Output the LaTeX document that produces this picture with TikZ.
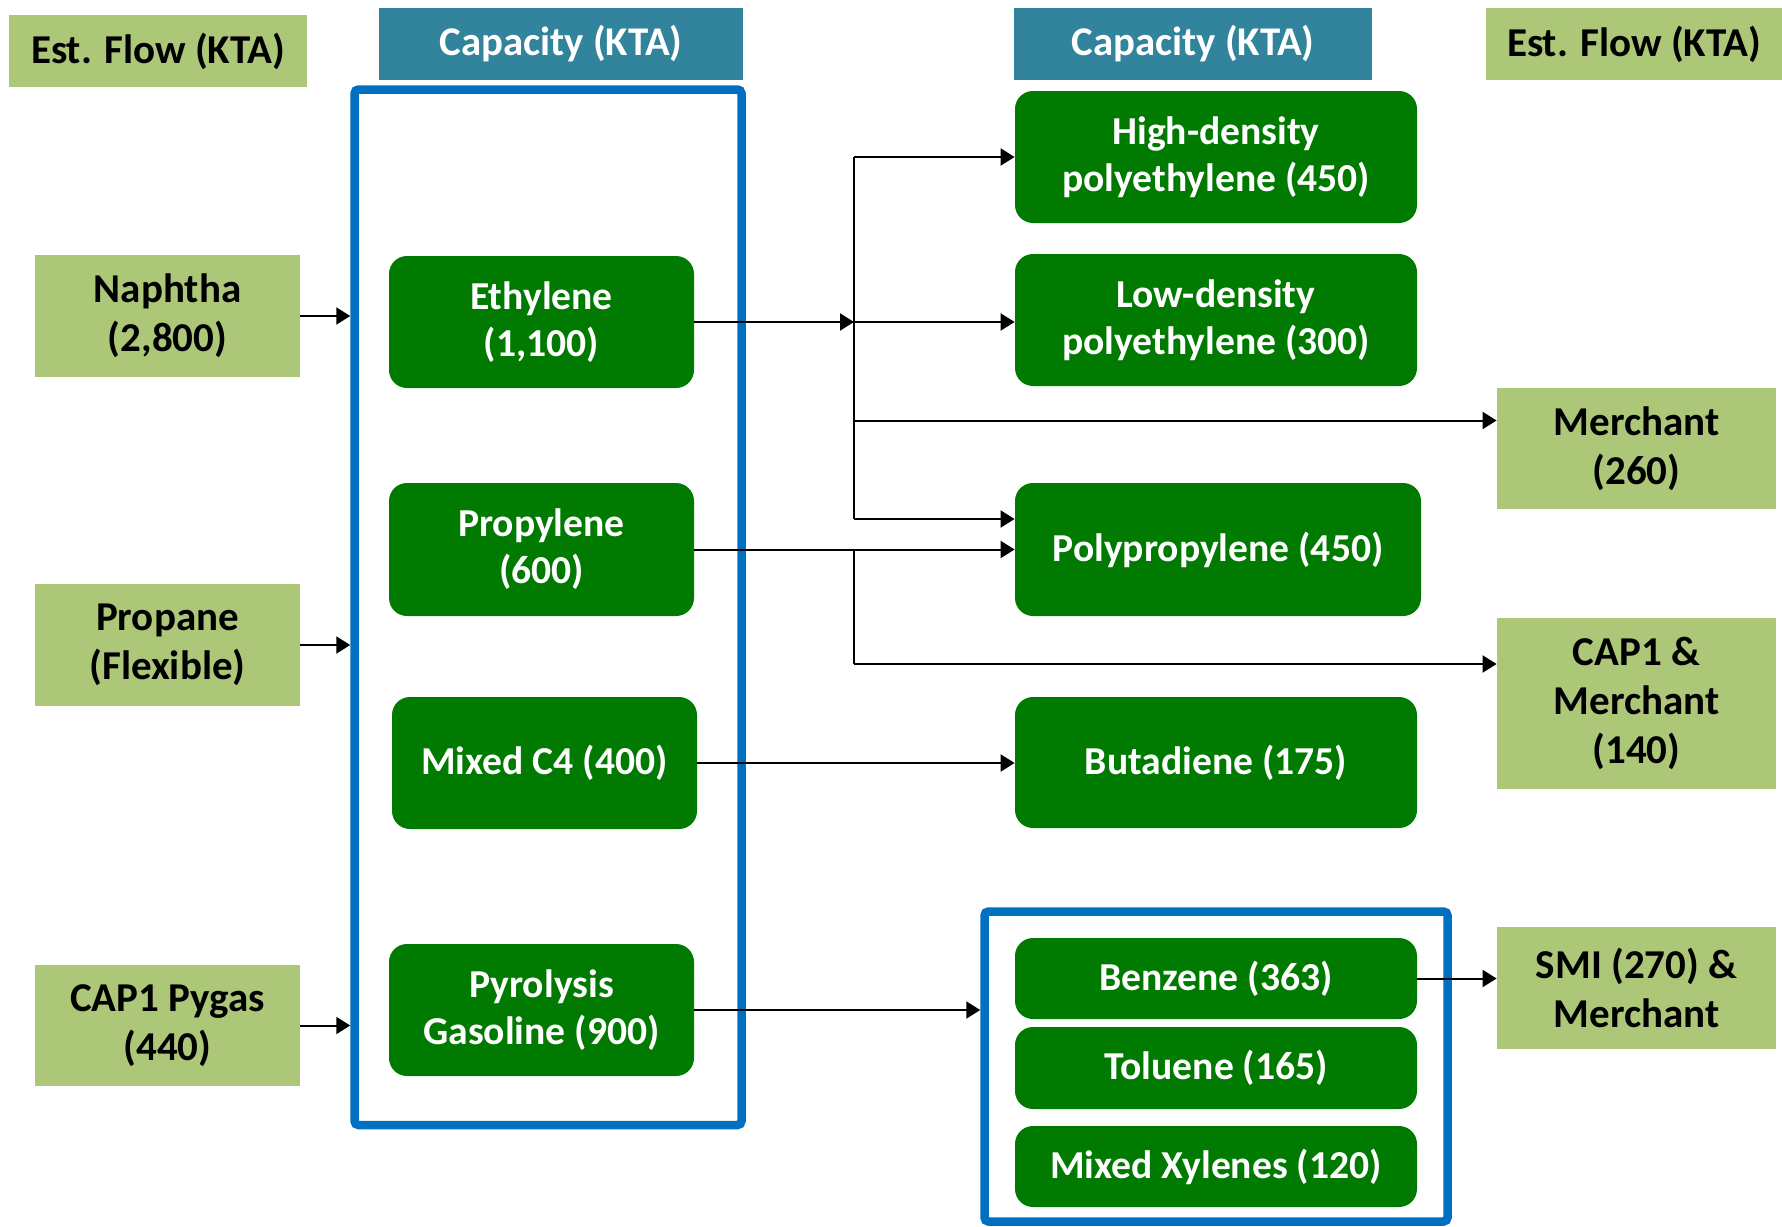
\documentclass[tikz,border=0pt]{standalone}
\usepackage{fontspec}
\setmainfont{Carlito}
\usetikzlibrary{arrows.meta}
\definecolor{lightg}{HTML}{ADC779}
\definecolor{dgreen}{HTML}{007A00}
\definecolor{hdrteal}{HTML}{31849B}
\definecolor{blueb}{HTML}{0070C0}
\tikzset{
  lbox/.style={fill=lightg, text=black, align=center, inner sep=0pt,
    font=\bfseries\fontsize{20.5}{24.5}\selectfont},
  hbox/.style={fill=hdrteal, text=white, align=center, inner sep=0pt,
    font=\bfseries\fontsize{20.4}{24.5}\selectfont},
  pbox/.style={fill=dgreen, text=white, align=center, inner sep=0pt, rounded corners=9pt,
    font=\bfseries\fontsize{19.8}{23.5}\selectfont},
  bframe/.style={draw=blueb, line width=4.25pt, rounded corners=2pt, inner sep=0pt},
  arr/.style={line width=1pt, -{Triangle[length=7pt,width=8.5pt]}},
  ln/.style={line width=1pt}
}
\begin{document}
\begin{tikzpicture}[x=0.5pt,y=-0.5pt]
\useasboundingbox (0,0) rectangle (1782,1226);
% headers
\node[lbox, minimum width=149pt, minimum height=36pt] (estL) at (158,51) {Est. Flow (KTA)};
\node[hbox, minimum width=182pt, minimum height=36pt] (capL) at (561,44) {Capacity (KTA)};
\node[hbox, minimum width=179pt, minimum height=36pt] (capR) at (1193,44) {Capacity (KTA)};
\node[lbox, minimum width=148pt, minimum height=36pt] (estR) at (1634,44) {Est. Flow (KTA)};
% frames
\node[bframe, minimum width=193.5pt, minimum height=517.75pt] (bigbox) at (548,607.25) {};
\node[bframe, minimum width=231.5pt, minimum height=155pt] (bluebox2) at (1216,1066.5) {};
% feeds
\node[lbox, minimum width=132.5pt, minimum height=61pt] (naphtha) at (167.5,316) {Naphtha\\(2,800)};
\node[lbox, minimum width=132.5pt, minimum height=61pt] (propane) at (167.5,645) {Propane\\(Flexible)};
\node[lbox, minimum width=132.5pt, minimum height=60.5pt] (pygas) at (167.5,1025.5) {CAP1 Pygas\\(440)};
% capacity left
\node[pbox, minimum width=152.5pt, minimum height=66pt] (ethylene) at (541.5,322) {Ethylene\\(1,100)};
\node[pbox, minimum width=152.5pt, minimum height=66.5pt] (propylene) at (541.5,549.5) {Propylene\\(600)};
\node[pbox, minimum width=152.5pt, minimum height=66pt] (mixedc) at (544.5,763) {Mixed C4 (400)};
\node[pbox, minimum width=152.5pt, minimum height=66pt] (pyrolysis) at (541.5,1010) {Pyrolysis\\Gasoline (900)};
% capacity right
\node[pbox, minimum width=201pt, minimum height=66pt] (hdpe) at (1216,157) {High-density\\polyethylene (450)};
\node[pbox, minimum width=201pt, minimum height=66pt] (ldpe) at (1216,320) {Low-density\\polyethylene (300)};
\node[pbox, minimum width=203pt, minimum height=66.5pt] (pp) at (1218,549.5) {Polypropylene (450)};
\node[pbox, minimum width=201pt, minimum height=65.5pt] (butadiene) at (1216,762.5) {Butadiene (175)};
\node[pbox, minimum width=201pt, minimum height=40.5pt] (benzene) at (1216,978.5) {Benzene (363)};
\node[pbox, minimum width=201pt, minimum height=41pt] (toluene) at (1216,1068) {Toluene (165)};
\node[pbox, minimum width=201pt, minimum height=40.5pt] (xylenes) at (1216,1166.5) {Mixed Xylenes (120)};
% flows right
\node[lbox, minimum width=139.5pt, minimum height=60.5pt] (merchant) at (1636.5,448.5) {Merchant\\(260)};
\node[lbox, minimum width=139.5pt, minimum height=85.5pt] (capm) at (1636.5,703.5) {CAP1 \&\\Merchant\\(140)};
\node[lbox, minimum width=139.5pt, minimum height=61pt] (smi) at (1636.5,988) {SMI (270) \&\\Merchant};
% connectors
\draw[arr] (naphtha.east) -- (naphtha.east -| bigbox.west);
\draw[arr] (propane.east) -- (propane.east -| bigbox.west);
\draw[arr] (pygas.east) -- (pygas.east -| bigbox.west);
\coordinate (J1) at (854,322);
\coordinate (T1) at (854,157);
\coordinate (B1) at (854,519);
\coordinate (M1) at (854,420.5);
\coordinate (J2) at (854,549.5);
\coordinate (B2) at (854,664);
\draw[arr] (ethylene.east) -- (J1);
\draw[arr] (J1) -- (J1 -| ldpe.west);
\draw[ln] (T1) -- (B1);
\draw[arr] (T1) -- (T1 -| hdpe.west);
\draw[arr] (B1) -- (B1 -| pp.west);
\draw[arr] (M1) -- (M1 -| merchant.west);
\draw[arr] (propylene.east) -- (propylene.east -| pp.west);
\draw[ln] (J2) -- (B2);
\draw[arr] (B2) -- (B2 -| capm.west);
\draw[arr] (mixedc.east) -- (mixedc.east -| butadiene.west);
\draw[arr] (pyrolysis.east) -- (pyrolysis.east -| bluebox2.west);
\draw[arr] (benzene.east) -- (benzene.east -| smi.west);
\end{tikzpicture}
\end{document}
